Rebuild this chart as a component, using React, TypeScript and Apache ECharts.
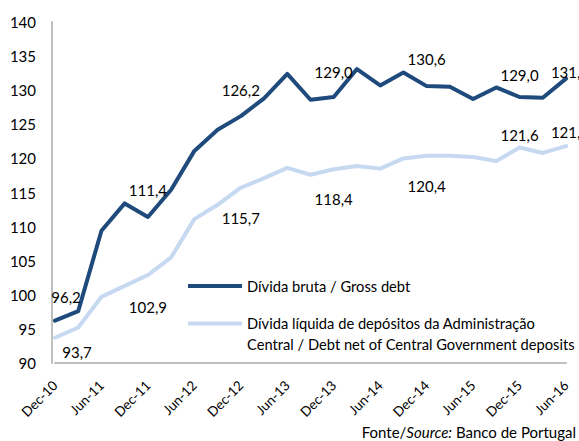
import React, { useEffect, useRef } from "react";
import * as echarts from "echarts";

const categories = [
  "Dec-10", "Mar-11", "Jun-11", "Sep-11", "Dec-11", "Mar-12", "Jun-12", "Sep-12",
  "Dec-12", "Mar-13", "Jun-13", "Sep-13", "Dec-13", "Mar-14", "Jun-14", "Sep-14",
  "Dec-14", "Mar-15", "Jun-15", "Sep-15", "Dec-15", "Mar-16", "Jun-16",
];

const grossDebt = [
  96.2, 97.6, 109.4, 113.4, 111.4, 115.4, 121.1, 124.2, 126.2, 128.8, 132.4, 128.6,
  129.0, 133.1, 130.7, 132.6, 130.6, 130.5, 128.7, 130.4, 129.0, 128.9, 131.7,
];

const netDebt = [
  93.7, 95.2, 99.7, 101.3, 102.9, 105.5, 111.1, 113.2, 115.7, 117.1, 118.6, 117.6,
  118.4, 118.9, 118.5, 120.0, 120.4, 120.4, 120.2, 119.6, 121.6, 120.8, 121.8,
];

const grossName = "Dívida bruta / Gross debt";
const netName = "Dívida líquida de depósitos da Administração\nCentral / Debt net of Central Government deposits";

// label offsets (dx, dy) from the point, keyed by category index
const grossLabelOffsets: Record<number, [number, number]> = {
  0: [11, -24], 4: [0, -27], 8: [0, -26], 12: [0, -25], 16: [0, -27], 20: [0, -22], 22: [4, -7],
};
const netLabelOffsets: Record<number, [number, number]> = {
  0: [22, 14], 4: [0, 32], 8: [0, 30], 12: [0, 30], 16: [0, 30], 20: [0, -12], 22: [4, -14],
};

const FONT = "Lato, 'Open Sans', sans-serif";
const DARK = "#1f4a7c";
const LIGHT = "#c6d9f1";
const FS = 15;

const fmt = (v: number) => v.toFixed(1).replace(".", ",");

function buildData(values: number[], offsets: Record<number, [number, number]>) {
  return values.map((v, i) => {
    const off = offsets[i];
    if (!off) return v;
    return {
      value: v,
      label: {
        show: true,
        position: "inside",
        formatter: (p: any) => fmt(p.value),
        color: "#000",
        fontFamily: FONT,
        fontSize: FS,
      },
    };
  });
}

function makeLayout(offsets: Record<number, [number, number]>) {
  return (params: any) => {
    const off = offsets[params.dataIndex];
    if (!off) return {};
    return { dx: off[0], dy: off[1], hideOverlap: false };
  };
}

export default function App() {
  const ref = useRef<HTMLDivElement>(null);
  useEffect(() => {
    if (!ref.current) return;
    const chart = echarts.init(ref.current, null, { renderer: "svg" });
    chart.setOption({
      animation: false,
      backgroundColor: "#fff",
      textStyle: { fontFamily: FONT },
      grid: { left: 55, right: 13, top: 22, bottom: 78, containLabel: false },
      title: {
        text: "{a|Fonte/}{b|Source:}{a| Banco de Portugal}",
        right: 3,
        top: 424,
        padding: 0,
        textStyle: {
          fontWeight: "normal",
          rich: {
            a: { fontFamily: FONT, fontSize: 15, color: "#000", fontWeight: "normal" },
            b: { fontFamily: FONT, fontSize: 15, color: "#000", fontStyle: "italic", fontWeight: "normal" },
          },
        },
      },
      legend: [
        {
          data: [
            {
              name: grossName,
              icon: "path://M0,0h0.01v0.01h-0.01z M0,12h54v4h-54z M0,27.99h0.01v0.01h-0.01z",
            },
          ],
          left: 188,
          top: 272,
          padding: 0,
          orient: "vertical",
          itemWidth: 54,
          itemHeight: 28,
          itemGap: 0,
          itemStyle: { borderWidth: 0 },
          textStyle: { fontFamily: FONT, fontSize: 14.7, color: "#000" },
          selectedMode: false,
        },
        {
          data: [
            {
              name: netName,
              icon: "path://M0,0h0.01v0.01h-0.01z M0,2h54v4h-54z M0,27.99h0.01v0.01h-0.01z",
            },
          ],
          left: 188,
          top: 312.5,
          padding: 0,
          orient: "vertical",
          itemWidth: 54,
          itemHeight: 28,
          itemGap: 0,
          itemStyle: { borderWidth: 0 },
          textStyle: { fontFamily: FONT, fontSize: 14.7, color: "#000", lineHeight: 21 },
          selectedMode: false,
        },
      ],
      xAxis: {
        type: "category",
        data: categories,
        boundaryGap: false,
        axisLine: { show: true, lineStyle: { color: "#bfbfbf", width: 2 } },
        axisTick: { show: false },
        axisLabel: {
          interval: 1,
          rotate: 45,
          margin: 20,
          color: "#000",
          fontFamily: FONT,
          fontSize: 13.5,
        },
        splitLine: { show: false },
      },
      yAxis: {
        type: "value",
        min: 90,
        max: 140,
        interval: 5,
        offset: 3,
        axisLine: { show: true, lineStyle: { color: "#bfbfbf", width: 2 } },
        axisTick: { show: false },
        axisLabel: { color: "#000", fontFamily: FONT, fontSize: FS, margin: 16 },
        splitLine: { show: false },
      },
      series: [
        {
          name: grossName,
          type: "line",
          data: buildData(grossDebt, grossLabelOffsets),
          showSymbol: true,
          symbol: "circle",
          symbolSize: 0.1,
          lineStyle: { color: DARK, width: 4, join: "round", cap: "round" },
          itemStyle: { color: DARK, borderWidth: 0 },
          label: { show: false },
          labelLayout: makeLayout(grossLabelOffsets),
          z: 3,
        },
        {
          name: netName,
          type: "line",
          data: buildData(netDebt, netLabelOffsets),
          showSymbol: true,
          symbol: "circle",
          symbolSize: 0.1,
          lineStyle: { color: LIGHT, width: 4, join: "round", cap: "round" },
          itemStyle: { color: LIGHT, borderWidth: 0 },
          label: { show: false },
          labelLayout: makeLayout(netLabelOffsets),
          z: 2,
        },
      ],
    });
    return () => chart.dispose();
  }, []);
  return (
    <div
      ref={ref}
      style={{ position: "absolute", left: 0, top: 0, width: 579, height: 441 }}
    />
  );
}
